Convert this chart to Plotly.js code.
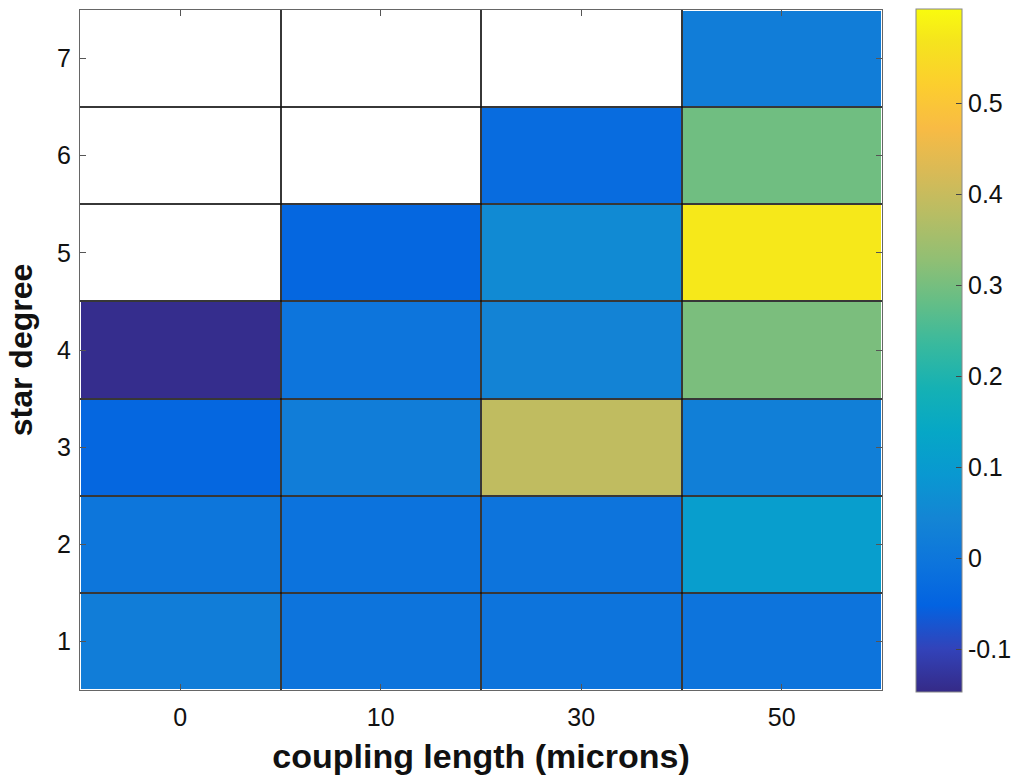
<!DOCTYPE html>
<html>
<head>
<meta charset="utf-8">
<script src="https://cdn.plot.ly/plotly-3.0.1.min.js"></script>
<style>html,body{margin:0;padding:0;background:#fff;}#chart{width:1026px;height:780px;}</style>
</head>
<body>
<div id="chart"></div>
<script>
// categories
const couplingLengths = ['0', '10', '30', '50'];
const starDegrees = [1, 2, 3, 4, 5, 6, 7];

// values per star degree (row), one entry per coupling length; null = no data
const degree1 = [0.022, -0.005, -0.005, -0.005];
const degree2 = [0.000, -0.008, -0.005, 0.110];
const degree3 = [-0.039, 0.022, 0.390, 0.027];
const degree4 = [-0.140, -0.003, 0.039, 0.306];
const degree5 = [null, -0.040, 0.056, 0.575];
const degree6 = [null, null, -0.027, 0.294];
const degree7 = [null, null, null, 0.022];

const colorbarTicks = [-0.1, 0, 0.1, 0.2, 0.3, 0.4, 0.5];
const colorMin = -0.146, colorMax = 0.604;

// parula colormap
const parulaRGB = [
  [53,42,135],[50,67,186],[3,99,225],[13,117,220],[20,133,212],[9,152,209],
  [6,167,198],[21,177,180],[56,185,158],[101,190,134],[146,191,115],[183,189,100],
  [217,186,86],[248,187,68],[252,206,46],[245,228,29],[249,251,14]
];
const parulaIdx = [0,4,8,12,16,20,24,28,32,36,40,44,48,52,56,60,63];
const parula = parulaRGB.map((c, i) => [parulaIdx[i] / 63, 'rgb(' + c.join(',') + ')']);

const z = [degree1, degree2, degree3, degree4, degree5, degree6, degree7];
const xIdx = couplingLengths.map((_, i) => i);

const fontFam = 'Liberation Sans, Arial, sans-serif';

const trace = {
  type: 'heatmap',
  x: xIdx,
  y: starDegrees,
  z: z,
  zmin: colorMin,
  zmax: colorMax,
  colorscale: parula,
  xgap: 2,
  ygap: 2,
  hoverongaps: false,
  colorbar: {
    x: 1.0423, xanchor: 'left', xref: 'paper', xpad: 0,
    y: 0.5, yanchor: 'middle', len: 1.005, lenmode: 'fraction', ypad: 0,
    thickness: 46, thicknessmode: 'pixels',
    outlinewidth: 1, outlinecolor: '#888',
    tickvals: colorbarTicks,
    ticktext: colorbarTicks.map(v => String(v)),
    ticks: 'inside', ticklen: 6, tickcolor: '#444', tickwidth: 1,
    tickfont: {family: fontFam, size: 25, color: '#111'},
    ticklabelposition: 'outside'
  }
};

const layout = {
  width: 1026, height: 780,
  margin: {l: 80, r: 143, t: 8, b: 90},
  paper_bgcolor: '#fff',
  plot_bgcolor: '#fff',
  xaxis: {
    range: [-0.5, couplingLengths.length - 0.5],
    tickmode: 'array', tickvals: xIdx, ticktext: couplingLengths,
    ticks: 'inside', ticklen: 6, tickcolor: '#555',
    ticklabelstandoff: 5,
    showline: true, linecolor: '#666', linewidth: 1, mirror: 'ticks',
    showgrid: false, zeroline: false,
    minor: {tickmode: 'linear', tick0: 0.5, dtick: 1, showgrid: true, gridcolor: 'rgba(20,20,20,0.85)', gridwidth: 2, ticks: ''},
    tickfont: {family: fontFam, size: 25, color: '#111'},
    title: {text: '<b>coupling length (microns)</b>', standoff: 14, font: {family: fontFam, size: 34, color: '#111'}}
  },
  yaxis: {
    range: [0.5, starDegrees.length + 0.5],
    tickmode: 'array', tickvals: starDegrees,
    ticks: 'inside', ticklen: 6, tickcolor: '#555',
    ticklabelstandoff: 3,
    showline: true, linecolor: '#666', linewidth: 1, mirror: 'ticks',
    showgrid: false, zeroline: false,
    minor: {tickmode: 'linear', tick0: 0.5, dtick: 1, showgrid: true, gridcolor: 'rgba(20,20,20,0.85)', gridwidth: 2, ticks: ''},
    tickfont: {family: fontFam, size: 25, color: '#111'},
    title: {text: '<b>star degree</b>', standoff: 14, font: {family: fontFam, size: 32, color: '#111'}}
  },
  showlegend: false
};

Plotly.newPlot('chart', [trace], layout, {displayModeBar: false, staticPlot: true});
</script>
</body>
</html>
